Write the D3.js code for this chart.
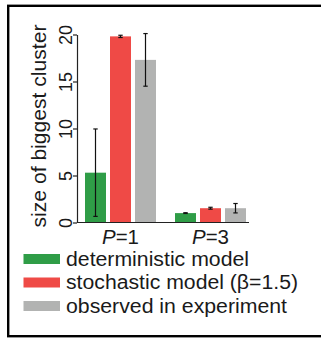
<!DOCTYPE html>
<html>
<head>
<meta charset="utf-8">
<script src="https://cdn.jsdelivr.net/npm/d3@7"></script>
<style>
  body { margin: 0; background: #fff; }
  text { font-family: "Liberation Sans", Arial, sans-serif; fill: #1a1a1a; }
</style>
</head>
<body>
<svg id="chart" width="321" height="338"></svg>
<script>
// data
var categories = ["P=1", "P=3"];
var series = ["deterministic model", "stochastic model (\u03b2=1.5)", "observed in experiment"];
var colors = ["#2f9d47", "#ef4a46", "#b2b3b2"];
var meanValues = [
  [5.3, 1.0],    // deterministic model
  [19.8, 1.52],  // stochastic model
  [17.3, 1.52]   // observed in experiment
];
var errValues = [
  [4.65, 0.04],
  [0.12, 0.1],
  [2.8, 0.5]
];
var yTicks = [0, 5, 10, 15, 20];

var svg = d3.select("#chart");

// frame round the whole figure (right side is cut off in the original)
svg.append("rect")
  .attr("x", 8.2).attr("y", 5.8)
  .attr("width", 340).attr("height", 330.4)
  .attr("fill", "none")
  .attr("stroke", "#000")
  .attr("stroke-width", 2.4);

var y = d3.scaleLinear().domain([0, 20]).range([222.5, 34.5]);

var x0 = d3.scaleBand().domain(categories).range([75.5, 255.5]);
var x1 = d3.scaleBand().domain(d3.range(series.length))
  .range([9.5, 80.5]).paddingInner(0.16);

// bars
var rows = [];
series.forEach(function(s, i) {
  categories.forEach(function(c, j) {
    rows.push({ s: i, c: c, v: meanValues[i][j], e: errValues[i][j] });
  });
});

var g = svg.append("g");

g.selectAll(".bar")
  .data(rows)
  .enter().append("rect")
    .attr("class", "bar")
    .attr("x", function(d) { return x0(d.c) + x1(d.s); })
    .attr("y", function(d) { return y(d.v); })
    .attr("width", x1.bandwidth())
    .attr("height", function(d) { return y(0) - y(d.v); })
    .attr("fill", function(d) { return colors[d.s]; });

// error bars
var err = g.selectAll(".err")
  .data(rows)
  .enter().append("g")
    .attr("class", "err")
    .attr("transform", function(d) {
      return "translate(" + (x0(d.c) + x1(d.s) + x1.bandwidth() / 2) + ",0)";
    });

err.append("line")
  .attr("y1", function(d) { return y(d.v + d.e); })
  .attr("y2", function(d) { return y(d.v - d.e); })
  .attr("stroke", "#111").attr("stroke-width", 1.2);
err.append("line")
  .attr("x1", -2.2).attr("x2", 2.2)
  .attr("y1", function(d) { return y(d.v + d.e); })
  .attr("y2", function(d) { return y(d.v + d.e); })
  .attr("stroke", "#111").attr("stroke-width", 1.2);
err.append("line")
  .attr("x1", -2.2).attr("x2", 2.2)
  .attr("y1", function(d) { return y(d.v - d.e); })
  .attr("y2", function(d) { return y(d.v - d.e); })
  .attr("stroke", "#111").attr("stroke-width", 1.2);

// y axis with rotated tick labels
var yAxis = svg.append("g")
  .attr("transform", "translate(77,0)")
  .call(d3.axisLeft(y).tickValues(yTicks).tickSize(4).tickSizeOuter(0));
yAxis.select(".domain").attr("stroke", "#222").attr("stroke-width", 1.2);
yAxis.selectAll(".tick line").attr("stroke", "#222").attr("stroke-width", 1.2);
yAxis.selectAll(".tick text")
  .attr("transform", "rotate(-90)")
  .attr("x", 0).attr("y", -5).attr("dy", 0)
  .attr("text-anchor", "middle")
  .style("font-family", "'Liberation Sans', Arial, sans-serif")
  .style("font-size", "18px")
  .attr("fill", "#1a1a1a");

// baseline
svg.append("line")
  .attr("x1", 77).attr("x2", 249)
  .attr("y1", y(0)).attr("y2", y(0))
  .attr("stroke", "#222").attr("stroke-width", 1.2);

// y label
svg.append("text")
  .attr("transform", "translate(46,126) rotate(-90)")
  .attr("text-anchor", "middle")
  .attr("textLength", 203)
  .attr("lengthAdjust", "spacingAndGlyphs")
  .style("font-size", "20px")
  .text("size of biggest cluster");

// category labels, italic P
var xl = svg.selectAll(".xlab")
  .data(categories)
  .enter().append("text")
    .attr("class", "xlab")
    .attr("x", function(d) { return x0(d) + x0.bandwidth() / 2; })
    .attr("y", 244)
    .attr("text-anchor", "middle")
    .attr("textLength", 37)
    .attr("lengthAdjust", "spacingAndGlyphs")
    .style("font-size", "20px");
xl.append("tspan").style("font-style", "italic").text(function(d) { return d.split("=")[0]; });
xl.append("tspan").text(function(d) { return "=" + d.split("=")[1]; });

// legend
var legendWidths = [183, 232, 221];
var leg = svg.selectAll(".leg")
  .data(series)
  .enter().append("g")
    .attr("class", "leg")
    .attr("transform", function(d, i) { return "translate(23.5," + (254 + i * 23.5) + ")"; });
leg.append("rect")
  .attr("width", 36.5).attr("height", 10)
  .attr("fill", function(d, i) { return colors[i]; });
leg.append("text")
  .attr("x", 42.5).attr("y", 11.5)
  .attr("textLength", function(d, i) { return legendWidths[i]; })
  .attr("lengthAdjust", "spacingAndGlyphs")
  .style("font-size", "20px")
  .text(function(d) { return d; });
</script>
</body>
</html>
